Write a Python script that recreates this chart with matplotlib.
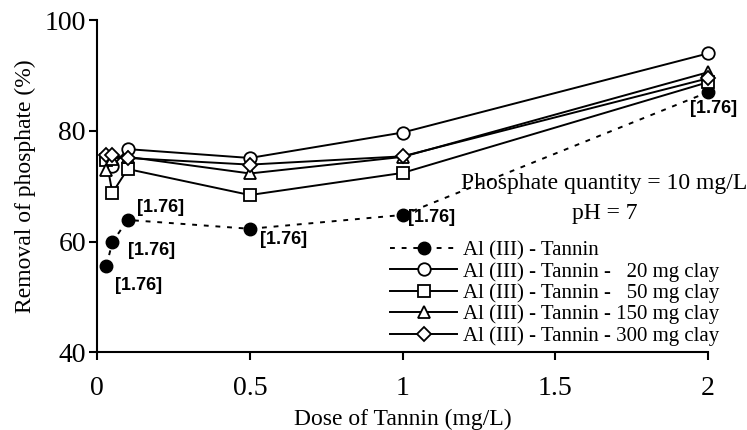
import matplotlib
matplotlib.use("Agg")
import matplotlib.pyplot as plt

# doses of tannin (mg/L)
dose = [0.03, 0.05, 0.1, 0.5, 1.0, 2.0]

# removal of phosphate (%)
tannin = [55.5, 59.9, 63.9, 62.3, 64.8, 87.0]
clay_20 = [75.0, 73.6, 76.7, 75.1, 79.7, 94.0]
clay_50 = [74.8, 68.8, 73.1, 68.4, 72.4, 88.8]
clay_150 = [72.9, 75.0, 75.3, 72.3, 75.3, 90.6]
clay_300 = [75.6, 75.6, 75.1, 73.9, 75.4, 89.5]

point_labels = ["[1.76]"] * 6
# label offsets (points) relative to each tannin point
label_offsets = [(6, -14), (11, -6), (7, 9), (7, -8), (4, -2), (-13, -12)]

plt.rcParams["font.family"] = ["Liberation Serif", "DejaVu Serif"]

fig = plt.figure(figsize=(7.47, 4.30), dpi=100, facecolor="white")
ax = fig.add_axes([0.130, 0.181, 0.818, 0.772])

lw = 1.4
ms = 9
ax.plot(dose, tannin, color="black", lw=lw, linestyle=(0, (2.5, 3.5)),
        marker="o", ms=ms, mfc="black", mec="black", clip_on=False,
        label="Al (III) - Tannin", zorder=3)
series = [
    (clay_20, "o", "Al (III) - Tannin -   20 mg clay"),
    (clay_50, "s", "Al (III) - Tannin -   50 mg clay"),
    (clay_150, "^", "Al (III) - Tannin - 150 mg clay"),
    (clay_300, "D", "Al (III) - Tannin - 300 mg clay"),
]
for vals, mk, lab in series:
    size = ms * 0.8 if mk == "D" else ms
    ax.plot(dose, vals, color="black", lw=lw, marker=mk, ms=size,
            mfc="white", mec="black", mew=1.3, clip_on=False, label=lab,
            zorder=4)

for x, y, t, off in zip(dose, tannin, point_labels, label_offsets):
    ax.annotate(t, (x, y), xytext=off, textcoords="offset points",
                ha="left", va="center", fontsize=13, fontweight="bold",
                family=["Liberation Sans", "DejaVu Sans"], zorder=5)

ax.text(0.83, 0.509, "Phosphate quantity = 10 mg/L", transform=ax.transAxes,
        ha="center", va="center", fontsize=17)
ax.text(0.83, 0.419, "pH = 7", transform=ax.transAxes,
        ha="center", va="center", fontsize=17)

ax.set_xlim(0, 2)
ax.set_ylim(40, 100)
ax.set_xticks([0, 0.5, 1, 1.5, 2])
ax.set_xticklabels(["0", "0.5", "1", "1.5", "2"])
ax.set_yticks([40, 60, 80, 100])
ax.tick_params(direction="out", length=6, width=1.5, labelsize=20)
ax.tick_params(axis="x", pad=11)
ax.tick_params(axis="y", pad=2)
for side in ["top", "right"]:
    ax.spines[side].set_visible(False)
for side in ["left", "bottom"]:
    ax.spines[side].set_linewidth(1.5)

ax.set_xlabel("Dose of Tannin (mg/L)", fontsize=17, labelpad=6)
ax.set_ylabel("Removal of phosphate (%)", fontsize=17, labelpad=6)

ax.legend(loc="upper left", bbox_to_anchor=(0.48, 0.336), frameon=False,
          fontsize=15, handlelength=3.2, handletextpad=0.3, labelspacing=0.08,
          borderpad=0, borderaxespad=0)

fig.savefig("out.png", dpi=100, facecolor="white")
